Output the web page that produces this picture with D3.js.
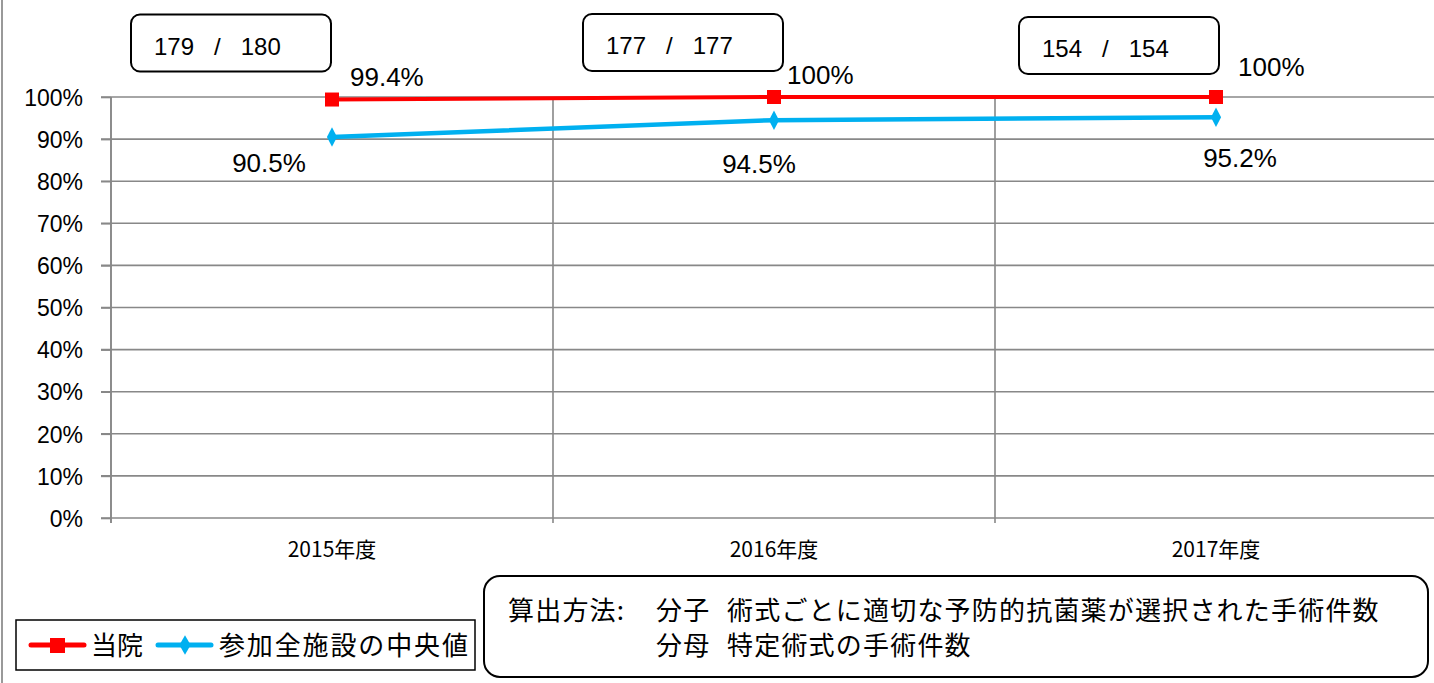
<!DOCTYPE html>
<html>
<head>
<meta charset="utf-8">
<script src="https://cdn.jsdelivr.net/npm/d3@7"></script>
<style>
  body { margin: 0; background: #fff; }
  svg { font-family: "Liberation Sans", Arial, sans-serif; }
  .jp { font-family: "Noto Sans CJK JP", sans-serif; }
  .grid line { stroke: #888; stroke-width: 1.6; }
  .axis path, .axis line { stroke: #888; stroke-width: 1.6; }
  .axis text { fill: #000; }
</style>
</head>
<body>
<svg id="chart" width="1434" height="683"></svg>
<script>
// data
const years = ["2015年度", "2016年度", "2017年度"];
const hospital = [0.994, 1.0, 1.0];
const median = [0.905, 0.945, 0.952];
const counts = ["179   /   180", "177   /   177", "154   /   154"];
const yTicks = [0, 0.1, 0.2, 0.3, 0.4, 0.5, 0.6, 0.7, 0.8, 0.9, 1.0];
const seriesNames = ["当院", "参加全施設の中央値"];

// label placement (manually dragged in the original)
const redLabelOff = [[18, -14], [13, -13], [22, -21]];
const blueLabelOff = [[-63, 35], [-15, 53], [24, 50]];
const boxOff = [[-201, -85], [-191, -83], [-197, -80]];

let svg = d3.select("#chart");

// left frame edge
svg.append("line").attr("x1", 2).attr("x2", 2).attr("y1", 0).attr("y2", 683)
    .attr("stroke", "#999").attr("stroke-width", 2);

let xScale = d3.scaleBand().domain(years).range([111, 1437]).padding(0);
let yScale = d3.scaleLinear().domain([0, 1]).range([518, 97]);
let cx = d => xScale(d) + xScale.bandwidth() / 2;

// horizontal grid
svg.append("g").attr("class", "grid").selectAll("line").data(yTicks).join("line")
    .attr("x1", 101).attr("x2", 1437)
    .attr("y1", d => yScale(d)).attr("y2", d => yScale(d));

// vertical grid at category borders
svg.append("g").attr("class", "grid").selectAll("line").data(years).join("line")
    .attr("x1", d => xScale(d)).attr("x2", d => xScale(d))
    .attr("y1", yScale(1)).attr("y2", yScale(0) + 5);

// y axis
let yAxis = d3.axisLeft(yScale).tickValues(yTicks).tickSize(10).tickPadding(18)
    .tickFormat(d => Math.round(d * 100) + "%");
let ya = svg.append("g").attr("class", "axis").attr("transform", "translate(111,0)").call(yAxis);
ya.select(".domain").attr("d", "M0," + yScale(1) + "V" + (yScale(0) + 5));
ya.selectAll("text").attr("font-size", "23px").attr("dy", "0.36em");

// x axis labels
svg.append("g").selectAll("text").data(years).join("text")
    .attr("class", "jp")
    .attr("x", d => cx(d)).attr("y", 557)
    .attr("text-anchor", "middle").attr("font-size", "21px")
    .text(d => d);

// lines
let line = d3.line().x((d, i) => cx(years[i])).y(d => yScale(d));
svg.append("path").attr("d", line(median)).attr("fill", "none")
    .attr("stroke", "#00B0F0").attr("stroke-width", 4.5);
svg.append("path").attr("d", line(hospital)).attr("fill", "none")
    .attr("stroke", "#FF0000").attr("stroke-width", 4);

// markers
svg.append("g").selectAll("path").data(median).join("path")
    .attr("d", d3.symbol().type(d3.symbolDiamond).size(110))
    .attr("transform", (d, i) => "translate(" + cx(years[i]) + "," + yScale(d) + ") scale(0.9,1)")
    .attr("fill", "#00B0F0");
svg.append("g").selectAll("rect").data(hospital).join("rect")
    .attr("x", (d, i) => cx(years[i]) - 7).attr("y", d => yScale(d) - 7)
    .attr("width", 14).attr("height", 14).attr("fill", "#FF0000");

// data labels
svg.append("g").selectAll("text").data(hospital).join("text")
    .attr("x", (d, i) => cx(years[i]) + redLabelOff[i][0])
    .attr("y", (d, i) => yScale(d) + redLabelOff[i][1])
    .attr("font-size", "26px")
    .text(d => (d === 1 ? "100" : (d * 100).toFixed(1)) + "%");
svg.append("g").selectAll("text").data(median).join("text")
    .attr("x", (d, i) => cx(years[i]) + blueLabelOff[i][0])
    .attr("y", (d, i) => yScale(d) + blueLabelOff[i][1])
    .attr("text-anchor", "middle").attr("font-size", "26px")
    .text(d => (d * 100).toFixed(1) + "%");

// count boxes
let boxes = svg.append("g").selectAll("g").data(counts).join("g")
    .attr("transform", (d, i) => "translate(" + (cx(years[i]) + boxOff[i][0]) + "," + (yScale(hospital[i]) + boxOff[i][1]) + ")");
boxes.append("rect").attr("width", 200).attr("height", 57).attr("rx", 9)
    .attr("fill", "#fff").attr("stroke", "#000").attr("stroke-width", 2);
boxes.append("text").attr("x", 23).attr("y", 40).attr("font-size", "24px")
    .style("white-space", "pre").text(d => d);

// legend
let lg = svg.append("g");
lg.append("rect").attr("x", 16).attr("y", 620).attr("width", 459).attr("height", 50)
    .attr("fill", "#fff").attr("stroke", "#000").attr("stroke-width", 1.5);
lg.append("line").attr("x1", 31).attr("x2", 84).attr("y1", 645).attr("y2", 645)
    .attr("stroke", "#FF0000").attr("stroke-width", 5).attr("stroke-linecap", "round");
lg.append("rect").attr("x", 50).attr("y", 638).attr("width", 15).attr("height", 15).attr("fill", "#FF0000");
lg.append("text").attr("class", "jp").attr("x", 91).attr("y", 655).attr("font-size", "26px").text(seriesNames[0]);
lg.append("line").attr("x1", 158).attr("x2", 211).attr("y1", 645).attr("y2", 645)
    .attr("stroke", "#00B0F0").attr("stroke-width", 5).attr("stroke-linecap", "round");
lg.append("path").attr("d", d3.symbol().type(d3.symbolDiamond).size(110))
    .attr("transform", "translate(185,645)").attr("fill", "#00B0F0");
lg.append("text").attr("class", "jp").attr("x", 219).attr("y", 655).attr("font-size", "26px")
    .attr("textLength", 249).text(seriesNames[1]);

// formula note
let note = svg.append("g").attr("class", "jp").attr("font-size", "26px").attr("letter-spacing", "1.2px");
note.append("rect").attr("x", 484).attr("y", 576).attr("width", 944).attr("height", 101).attr("rx", 16)
    .attr("fill", "#fff").attr("stroke", "#000").attr("stroke-width", 2);
note.append("text").attr("x", 508).attr("y", 620).text("算出方法:");
note.append("text").attr("x", 656).attr("y", 620).text("分子");
note.append("text").attr("x", 727).attr("y", 620).text("術式ごとに適切な予防的抗菌薬が選択された手術件数");
note.append("text").attr("x", 656).attr("y", 655).text("分母");
note.append("text").attr("x", 727).attr("y", 655).text("特定術式の手術件数");
</script>
</body>
</html>
